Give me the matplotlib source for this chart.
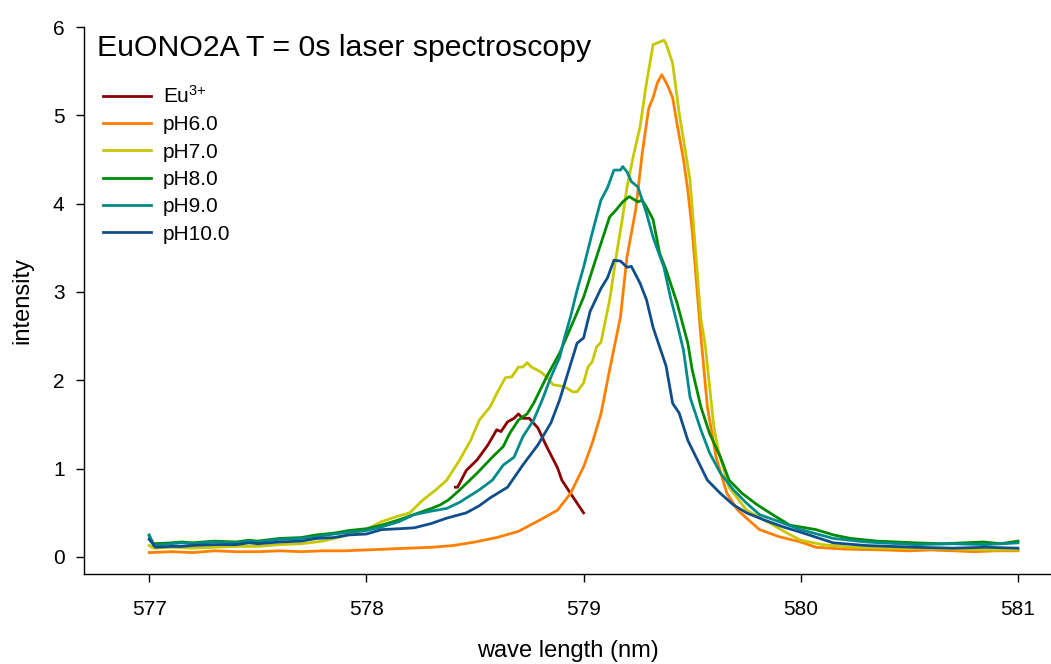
import matplotlib
matplotlib.use("Agg")
import matplotlib.pyplot as plt

plt.rcParams['font.family'] = ['Liberation Sans', 'DejaVu Sans']
plt.rcParams['mathtext.fontset'] = 'custom'
plt.rcParams['mathtext.rm'] = 'Liberation Sans'
plt.rcParams['mathtext.it'] = 'Liberation Sans:italic'

# --- spectra: wavelength (nm) and intensity per sample ---
eu_x = [578.41, 578.42, 578.46, 578.51, 578.56, 578.60, 578.62, 578.65, 578.68, 578.70,
        578.72, 578.75, 578.79, 578.83, 578.88, 578.90, 578.94, 579.00]
eu_y = [0.79, 0.79, 0.98, 1.10, 1.27, 1.44, 1.42, 1.53, 1.57, 1.62,
        1.57, 1.57, 1.46, 1.25, 1.01, 0.87, 0.72, 0.50]

ph6_x = [577.0, 577.1, 577.2, 577.3, 577.4, 577.5, 577.6, 577.7, 577.8, 577.9,
         578.0, 578.1, 578.2, 578.3, 578.4, 578.5, 578.6, 578.7, 578.8, 578.88,
         578.94, 579.0, 579.04, 579.08, 579.12, 579.17, 579.20, 579.24, 579.27, 579.30,
         579.32, 579.34, 579.36, 579.38, 579.39, 579.41, 579.43, 579.46, 579.48, 579.50,
         579.54, 579.57, 579.61, 579.66, 579.71, 579.75, 579.81, 579.90, 580.0, 580.07,
         580.2, 580.38, 580.5, 580.6, 580.7, 580.8, 580.9, 581.0]
ph6_y = [0.05, 0.06, 0.05, 0.07, 0.06, 0.06, 0.07, 0.06, 0.07, 0.07,
         0.08, 0.09, 0.10, 0.11, 0.13, 0.17, 0.22, 0.29, 0.42, 0.53,
         0.72, 1.02, 1.29, 1.62, 2.12, 2.72, 3.40, 3.93, 4.57, 5.08,
         5.20, 5.37, 5.46, 5.37, 5.32, 5.20, 4.91, 4.50, 4.15, 3.70,
         2.50, 1.70, 1.13, 0.72, 0.53, 0.44, 0.31, 0.23, 0.17, 0.11,
         0.09, 0.08, 0.07, 0.08, 0.07, 0.06, 0.07, 0.07]

ph7_x = [577.0, 577.02, 577.1, 577.2, 577.3, 577.4, 577.5, 577.6, 577.7, 577.8,
         577.9, 578.0, 578.07, 578.13, 578.2, 578.26, 578.32, 578.37, 578.43, 578.48,
         578.52, 578.57, 578.60, 578.64, 578.67, 578.70, 578.72, 578.74, 578.76, 578.80,
         578.83, 578.86, 578.91, 578.95, 578.97, 579.0, 579.02, 579.04, 579.06, 579.08,
         579.12, 579.15, 579.18, 579.20, 579.23, 579.26, 579.29, 579.32, 579.34, 579.37,
         579.38, 579.41, 579.44, 579.49, 579.54, 579.56, 579.60, 579.62, 579.67, 579.75,
         579.86, 579.93, 580.0, 580.1, 580.23, 580.4, 580.53, 580.7, 580.85, 581.0]
ph7_y = [0.13, 0.10, 0.11, 0.10, 0.11, 0.12, 0.12, 0.14, 0.15, 0.18,
         0.24, 0.31, 0.40, 0.45, 0.50, 0.645, 0.76, 0.87, 1.10, 1.32,
         1.55, 1.70, 1.85, 2.03, 2.04, 2.15, 2.15, 2.20, 2.15, 2.10,
         2.04, 1.95, 1.93, 1.87, 1.87, 1.97, 2.15, 2.21, 2.38, 2.43,
         2.91, 3.40, 3.85, 4.19, 4.55, 4.87, 5.37, 5.80, 5.82, 5.85,
         5.81, 5.59, 5.03, 4.27, 2.70, 2.40, 1.47, 1.21, 0.79, 0.53,
         0.38, 0.28, 0.19, 0.14, 0.11, 0.10, 0.10, 0.09, 0.08, 0.08]

ph8_x = [577.0, 577.02, 577.1, 577.15, 577.2, 577.3, 577.4, 577.46, 577.5, 577.6,
         577.7, 577.77, 577.85, 577.92, 578.0, 578.07, 578.15, 578.23, 578.30, 578.34,
         578.38, 578.43, 578.51, 578.58, 578.63, 578.66, 578.70, 578.74, 578.77, 578.83,
         578.89, 578.95, 579.0, 579.06, 579.12, 579.15, 579.18, 579.21, 579.25, 579.27,
         579.29, 579.32, 579.35, 579.38, 579.43, 579.48, 579.50, 579.54, 579.58, 579.63,
         579.67, 579.73, 579.80, 579.87, 579.95, 580.07, 580.15, 580.23, 580.35, 580.53,
         580.65, 580.75, 580.84, 580.92, 581.0]
ph8_y = [0.24, 0.15, 0.16, 0.17, 0.16, 0.18, 0.17, 0.19, 0.18, 0.21,
         0.22, 0.25, 0.27, 0.30, 0.32, 0.36, 0.42, 0.49, 0.55, 0.59,
         0.65, 0.76, 0.95, 1.13, 1.25, 1.40, 1.55, 1.62, 1.74, 2.04,
         2.31, 2.65, 2.94, 3.40, 3.85, 3.93, 4.02, 4.08, 4.02, 4.04,
         3.96, 3.82, 3.44, 3.25, 2.88, 2.42, 2.12, 1.70, 1.40, 1.13,
         0.87, 0.72, 0.59, 0.48, 0.36, 0.31, 0.25, 0.21, 0.18, 0.16,
         0.15, 0.16, 0.17, 0.15, 0.18]

ph9_x = [577.0, 577.02, 577.1, 577.15, 577.2, 577.3, 577.4, 577.46, 577.5, 577.6,
         577.7, 577.77, 577.85, 577.92, 578.0, 578.07, 578.15, 578.22, 578.30, 578.37,
         578.43, 578.52, 578.58, 578.63, 578.68, 578.72, 578.77, 578.81, 578.85, 578.89,
         578.91, 578.94, 578.97, 579.0, 579.04, 579.08, 579.11, 579.14, 579.17, 579.18,
         579.20, 579.22, 579.25, 579.27, 579.29, 579.32, 579.37, 579.40, 579.43, 579.46,
         579.49, 579.54, 579.58, 579.63, 579.69, 579.75, 579.81, 579.90, 580.0, 580.15,
         580.3, 580.53, 580.7, 580.85, 581.0]
ph9_y = [0.25, 0.13, 0.15, 0.16, 0.15, 0.17, 0.16, 0.18, 0.17, 0.20,
         0.21, 0.23, 0.26, 0.28, 0.30, 0.34, 0.40, 0.48, 0.52, 0.55,
         0.62, 0.76, 0.87, 1.04, 1.13, 1.36, 1.55, 1.78, 2.04, 2.26,
         2.46, 2.72, 3.02, 3.28, 3.67, 4.04, 4.18, 4.38, 4.38, 4.42,
         4.36, 4.25, 4.19, 4.04, 3.89, 3.62, 3.28, 2.94, 2.65, 2.34,
         1.81, 1.44, 1.18, 0.95, 0.76, 0.61, 0.48, 0.40, 0.31, 0.21,
         0.17, 0.14, 0.15, 0.14, 0.16]

ph10_x = [577.0, 577.03, 577.1, 577.15, 577.2, 577.3, 577.4, 577.46, 577.5, 577.6,
          577.7, 577.77, 577.85, 577.92, 578.0, 578.07, 578.15, 578.22, 578.30, 578.37,
          578.46, 578.52, 578.57, 578.65, 578.72, 578.79, 578.85, 578.89, 578.92, 578.97,
          579.0, 579.03, 579.08, 579.11, 579.14, 579.17, 579.20, 579.22, 579.26, 579.29,
          579.32, 579.35, 579.38, 579.41, 579.44, 579.48, 579.54, 579.57, 579.63, 579.69,
          579.75, 579.83, 579.92, 580.0, 580.15, 580.3, 580.53, 580.7, 580.85, 581.0]
ph10_y = [0.20, 0.11, 0.12, 0.12, 0.13, 0.14, 0.14, 0.16, 0.15, 0.17,
          0.18, 0.21, 0.22, 0.25, 0.26, 0.31, 0.32, 0.33, 0.38, 0.44,
          0.50, 0.58, 0.67, 0.79, 1.04, 1.27, 1.52, 1.78, 2.02, 2.42,
          2.48, 2.78, 3.04, 3.16, 3.36, 3.35, 3.28, 3.29, 3.10, 2.91,
          2.60, 2.38, 2.16, 1.74, 1.63, 1.32, 1.02, 0.87, 0.72, 0.59,
          0.50, 0.42, 0.34, 0.28, 0.16, 0.13, 0.11, 0.10, 0.11, 0.10]

series = [
    ("Eu$^{3{+}}$", eu_x, eu_y, "#8B0000"),
    ("pH6.0", ph6_x, ph6_y, "#FF7F00"),
    ("pH7.0", ph7_x, ph7_y, "#C8C800"),
    ("pH8.0", ph8_x, ph8_y, "#008B00"),
    ("pH9.0", ph9_x, ph9_y, "#008B8B"),
    ("pH10.0", ph10_x, ph10_y, "#104E8B"),
]

x_ticks = [577, 578, 579, 580, 581]
y_ticks = [0, 1, 2, 3, 4, 5, 6]

W, H = 1051, 664
fig = plt.figure(figsize=(W / 100, H / 100), dpi=100)
ax = fig.add_axes([84 / W, (H - 574) / H, (W - 84) / W, (574 - 27) / H])

for label, xs, ys, color in series:
    ax.plot(xs, ys, color=color, lw=2.0, label=label)

ax.set_xlim(576.70, 581.152)
ax.set_ylim(-0.1925, 6.0)
ax.set_xticks(x_ticks)
ax.set_yticks(y_ticks)
ax.spines['top'].set_visible(False)
ax.spines['right'].set_visible(False)
for s in ('left', 'bottom'):
    ax.spines[s].set_linewidth(1.0)
ax.tick_params(axis='both', direction='out', length=6, width=1.0, labelsize=15)
ax.tick_params(axis='x', pad=13)
ax.tick_params(axis='y', pad=8)

ax.set_xlabel("wave length (nm)", fontsize=17, labelpad=15)
ax.set_ylabel("intensity", fontsize=17, labelpad=14)

ax.text(97 / W, (H - 48) / H, "EuONO2A T = 0s laser spectroscopy",
        transform=fig.transFigure, fontsize=21.8, va='center', ha='left')

ax.legend(loc='upper left', bbox_to_anchor=(103 / W, (H - 85) / H),
          bbox_transform=fig.transFigure, frameon=False, fontsize=15,
          handlelength=2.3, handletextpad=0.58, labelspacing=0.40,
          borderaxespad=0, borderpad=0)

fig.savefig("out.png", dpi=100)
